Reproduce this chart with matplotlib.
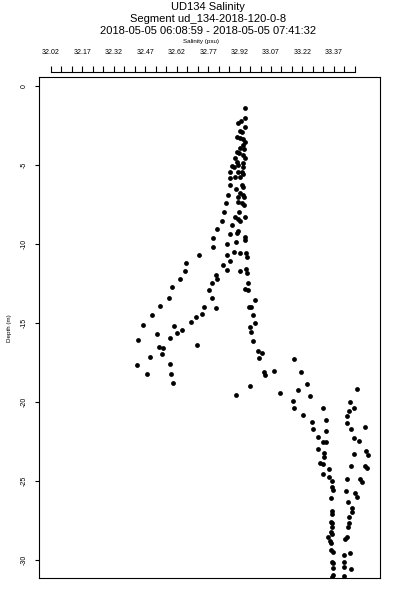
import numpy as np
import matplotlib
matplotlib.use('Agg')
import matplotlib.pyplot as plt
from matplotlib.lines import Line2D

plt.rcParams['font.family'] = ['Liberation Sans', 'DejaVu Sans']

# ---- data (salinity psu, depth m) ----
salinity = [
    32.946, 32.946, 32.926, 32.914, 32.946, 32.922, 32.933, 32.907, 32.922, 32.938,
    32.946, 32.935, 32.922, 32.941, 32.907, 32.919, 32.938, 32.946, 32.898, 32.907,
    32.914, 32.883, 32.894, 32.938, 32.938, 32.914, 32.930, 32.938, 32.875, 32.898,
    32.922, 32.875, 32.875, 32.930, 32.938, 32.902, 32.922, 32.914, 32.867, 32.938,
    32.943, 32.914, 32.930, 32.941, 32.854, 32.919, 32.846, 32.898, 32.914, 32.922,
    32.946, 32.835, 32.883, 32.811, 32.914, 32.907, 32.875, 32.946, 32.946, 32.795,
    32.792, 32.862, 32.903, 32.728, 32.859, 32.894, 32.922, 32.949, 32.954, 32.875,
    32.666, 32.840, 32.862, 32.662, 32.922, 32.949, 32.957, 32.806, 32.811, 32.636,
    32.789, 32.962, 32.600, 32.773, 32.945, 32.959, 32.585, 32.790, 32.994, 32.542,
    32.806, 32.752, 32.964, 32.975, 32.504, 32.743, 32.713, 32.689, 32.986, 32.461,
    32.609, 32.644, 32.621, 32.992, 32.970, 32.525, 32.589, 32.973, 32.438, 32.536,
    32.554, 32.717, 32.986, 32.549, 32.493, 33.010, 33.026, 33.014, 32.430, 32.590,
    32.480, 32.595, 33.037, 33.043, 32.604, 32.970, 32.902, 33.181, 33.086, 33.212,
    33.243, 33.114, 33.200, 33.257, 33.478, 33.173, 33.181, 33.318, 33.446, 33.467,
    33.442, 33.431, 33.221, 33.265, 33.270, 33.332, 33.434, 33.453, 33.517, 33.334,
    33.293, 33.467, 33.491, 33.319, 33.332, 33.294, 33.323, 33.323, 33.467, 33.523,
    33.531, 33.304, 33.319, 33.346, 33.450, 33.518, 33.529, 33.319, 33.348, 33.434,
    33.494, 33.502, 33.359, 33.362, 33.367, 33.426, 33.470, 33.481, 33.355, 33.438,
    33.359, 33.359, 33.455, 33.455, 33.443, 33.356, 33.362, 33.362, 33.443, 33.438,
    33.356, 33.362, 33.343, 33.351, 33.355, 33.431, 33.423, 33.355, 33.367, 33.419,
    33.446, 33.359, 33.367, 33.419, 33.367, 33.418, 33.450, 33.367, 33.362, 33.418,
]
depth = [
    -1.37, -2.01, -2.22, -2.36, -2.61, -2.85, -2.93, -3.21, -3.27, -3.35,
    -3.53, -3.73, -3.94, -3.99, -4.16, -4.26, -4.37, -4.58, -4.58, -4.79,
    -5.00, -5.04, -5.11, -4.89, -5.11, -5.46, -5.42, -5.59, -5.42, -5.74,
    -5.74, -5.84, -6.27, -6.27, -6.39, -6.54, -6.79, -7.01, -6.90, -6.90,
    -7.01, -7.32, -7.42, -7.53, -7.42, -7.96, -7.99, -8.27, -8.42, -8.54,
    -8.27, -8.54, -8.80, -9.07, -9.18, -9.32, -9.39, -9.54, -9.75, -9.60,
    -10.17, -10.02, -9.85, -10.70, -10.70, -10.49, -10.55, -10.59, -10.80, -11.08,
    -11.22, -11.33, -11.65, -11.71, -11.71, -11.58, -11.85, -11.96, -12.22, -12.22,
    -12.49, -12.49, -12.74, -12.91, -12.87, -12.91, -13.40, -13.40, -13.56, -13.92,
    -14.05, -13.97, -14.01, -13.97, -14.49, -14.43, -14.64, -14.92, -14.49, -15.11,
    -15.17, -15.44, -15.61, -15.02, -15.23, -15.72, -15.93, -15.55, -16.08, -16.50,
    -16.60, -16.41, -16.12, -16.98, -17.15, -16.77, -16.92, -17.20, -17.68, -17.59,
    -18.23, -18.25, -18.10, -18.27, -18.82, -19.01, -19.54, -17.28, -18.02, -18.08,
    -18.86, -19.41, -19.26, -19.62, -19.20, -19.94, -20.40, -20.38, -20.00, -20.36,
    -20.57, -20.87, -20.82, -21.28, -21.73, -21.12, -21.31, -21.73, -21.60, -21.82,
    -22.20, -22.28, -22.47, -22.51, -22.55, -22.97, -23.25, -23.50, -23.27, -23.08,
    -23.34, -23.88, -23.92, -24.26, -24.03, -24.05, -24.20, -24.58, -24.73, -24.87,
    -24.85, -25.04, -24.98, -25.36, -25.57, -25.61, -25.74, -26.03, -26.09, -26.31,
    -26.90, -27.09, -26.73, -26.94, -27.26, -27.58, -27.68, -27.89, -27.68, -27.89,
    -28.21, -28.35, -28.53, -28.78, -28.94, -28.53, -28.69, -29.37, -29.47, -29.68,
    -29.58, -30.11, -30.21, -30.11, -30.53, -30.42, -30.59, -30.95, -31.06, -31.01,
]

x_ticks = np.round(np.arange(32.02, 33.47 + 0.001, 0.05), 2)
x_labeled = np.round(np.arange(32.02, 33.37 + 0.001, 0.15), 2)
y_ticks = [0, -5, -10, -15, -20, -25, -30]

title_lines = ['UD134 Salinity',
               'Segment ud_134-2018-120-0-8',
               '2018-05-05 06:08:59 - 2018-05-05 07:41:32']

fig = plt.figure(figsize=(4, 6), dpi=100)
ax = fig.add_axes([0.0963, 0.0367, 0.8537, 0.8345])

ax.scatter(salinity, depth, s=12, color='black', linewidths=0)

ax.set_xlim(31.962, 33.5895)
ax.set_ylim(-31.14, 0.55)

# top salinity axis, offset above the box like R's axis()
ax.xaxis.tick_top()
ax.xaxis.set_label_position('top')
ax.spines['top'].set_position(('outward', 4))
ax.spines['top'].set_bounds(x_ticks[0], x_ticks[-1])
ax.spines['top'].set_linewidth(0.8)
ax.set_xticks(x_ticks)
ax.set_xticklabels([f'{v:.2f}' if np.any(np.isclose(v, x_labeled)) else ''
                    for v in x_ticks])
ax.tick_params(axis='x', direction='out', length=4, width=0.8,
               labelsize=5, pad=7, bottom=False, top=True)
ax.set_xlabel('Salinity (psu)', fontsize=4.5, labelpad=5)
ax.xaxis.label.set_x(0.476)

# box top
ax.add_line(Line2D([0, 1], [1, 1], transform=ax.transAxes, color='black',
                   linewidth=0.8, clip_on=False))
for s in ('left', 'right', 'bottom'):
    ax.spines[s].set_linewidth(0.8)

ax.set_yticks(y_ticks)
ax.set_yticklabels([str(v) for v in y_ticks], rotation=90, va='center')
ax.tick_params(axis='y', direction='out', length=3, width=0.8,
               labelsize=5, pad=5)
ax.set_ylabel('Depth (m)', fontsize=4.5, labelpad=6)

for i, line in enumerate(title_lines):
    fig.text(0.52, 1 - (7.5 + i * 11.5) / 600, line, fontsize=8,
             ha='center', va='center')

fig.savefig('out.png', dpi=100)
